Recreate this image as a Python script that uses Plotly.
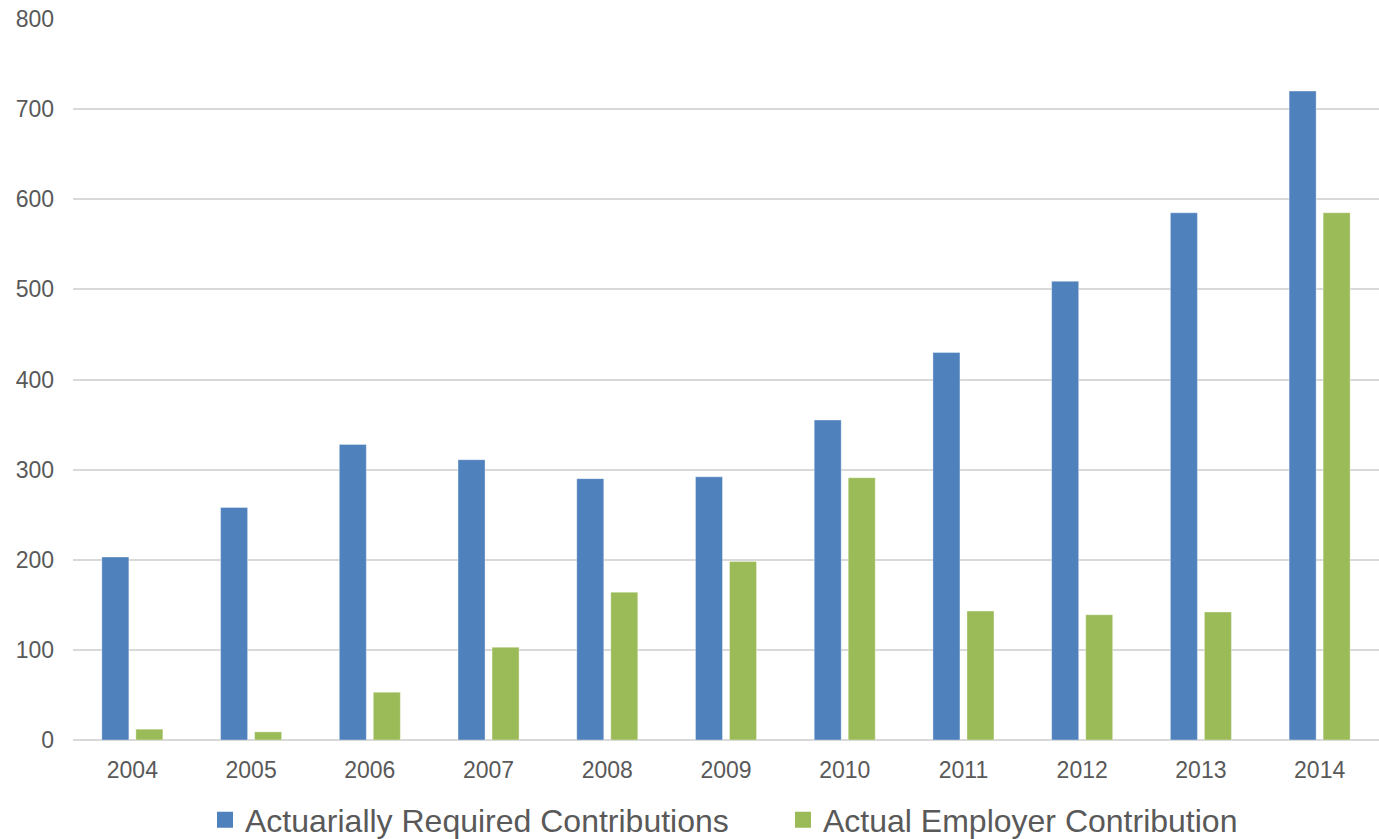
import plotly.graph_objects as go

years = ["2004", "2005", "2006", "2007", "2008", "2009", "2010", "2011", "2012", "2013", "2014"]
required = [203, 258, 328, 311, 290, 292, 355, 430, 509, 585, 720]
actual = [12, 9, 53, 103, 164, 198, 291, 143, 139, 142, 585]
names = ["Actuarially Required Contributions", "Actual Employer Contribution"]
colors = ["#4f81bd", "#9bbb59"]

fig = go.Figure()
for vals, name, col in zip([required, actual], names, colors):
    fig.add_trace(go.Bar(x=years, y=vals, name=name, showlegend=False,
                         marker=dict(color=col, line=dict(color="rgba(255,255,255,0.35)", width=1))))
for name, col in zip(names, colors):
    fig.add_trace(go.Scatter(x=[None], y=[None], mode="markers", name=name,
                             marker=dict(symbol="square", size=16, color=col)))

fig.update_layout(
    width=1379, height=839,
    margin=dict(l=73, r=0, t=19, b=99),
    paper_bgcolor="white", plot_bgcolor="white",
    barmode="group", bargap=0.427, bargroupgap=0.206,
    font=dict(family="Liberation Sans, Arial, sans-serif", color="#595959"),
    showlegend=True,
    legend=dict(orientation="h", xref="container", x=205 / 1379, xanchor="left",
                yref="container", y=0.0226, yanchor="middle",
                font=dict(size=32, color="#595959"), itemwidth=30, itemsizing="trace",
                entrywidth=533, traceorder="normal"),
)
fig.update_yaxes(range=[0, 800], dtick=100, showgrid=True, gridcolor="#d9d9d9", gridwidth=2,
                 zeroline=True, zerolinecolor="#d9d9d9", zerolinewidth=2,
                 tickfont=dict(size=23, color="#595959"), ticks="", showline=False,
                 ticklabelstandoff=18)
fig.update_xaxes(showgrid=False, tickfont=dict(size=23, color="#595959"), ticks="", showline=False,
                 ticklabelstandoff=14)

fig.write_html("out.html")
